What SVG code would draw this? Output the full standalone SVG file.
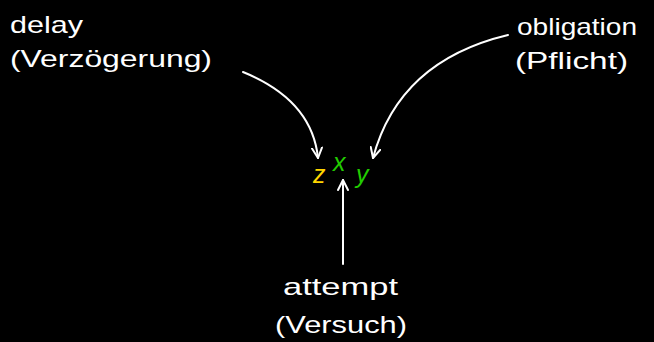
<svg xmlns="http://www.w3.org/2000/svg" width="654" height="342" viewBox="0 0 654 342">
  <style>
    .lbl { font-family: "Liberation Sans", "DejaVu Sans", sans-serif; font-size: 24px; fill: #ffffff; }
    .var { font-family: "Liberation Sans", "DejaVu Sans", sans-serif; font-size: 25px; font-style: italic; }
    .conn { fill: none; stroke: #ffffff; stroke-width: 2; stroke-linecap: round; stroke-linejoin: round; }
  </style>
  <defs>
    <marker id="arrow" viewBox="0 0 12 12" refX="11" refY="6" markerWidth="12" markerHeight="12" markerUnits="userSpaceOnUse" orient="auto">
      <path d="M1,1 L11,6 L1,11" fill="none" stroke="#ffffff" stroke-width="2" stroke-linecap="round" stroke-linejoin="round"/>
    </marker>
  </defs>
  <rect width="654" height="342" fill="#000000"/>

  <g id="connectors">
    <path class="conn" d="M243,72 Q312,100 318,158" marker-end="url(#arrow)"/>
    <path class="conn" d="M508,35 Q399,61 373,158" marker-end="url(#arrow)"/>
    <path class="conn" d="M343,264 L343,180" marker-end="url(#arrow)"/>
  </g>

  <g id="node-delay">
    <text class="lbl" x="10" y="33" textLength="73" lengthAdjust="spacingAndGlyphs">delay</text>
    <text class="lbl" x="10" y="67" textLength="202" lengthAdjust="spacingAndGlyphs">(Verzögerung)</text>
  </g>

  <g id="node-obligation">
    <text class="lbl" x="517" y="35" textLength="120" lengthAdjust="spacingAndGlyphs">obligation</text>
    <text class="lbl" x="515" y="69" textLength="113" lengthAdjust="spacingAndGlyphs">(Pflicht)</text>
  </g>

  <g id="node-attempt">
    <text class="lbl" x="283" y="295" textLength="115" lengthAdjust="spacingAndGlyphs">attempt</text>
    <text class="lbl" x="275" y="333" textLength="132" lengthAdjust="spacingAndGlyphs">(Versuch)</text>
  </g>

  <g id="node-zxy">
    <text class="var" x="313" y="183" fill="#ffd500">z</text>
    <text class="var" x="333" y="171" fill="#22cc00">x</text>
    <text class="var" x="356" y="183" fill="#22cc00">y</text>
  </g>
</svg>
